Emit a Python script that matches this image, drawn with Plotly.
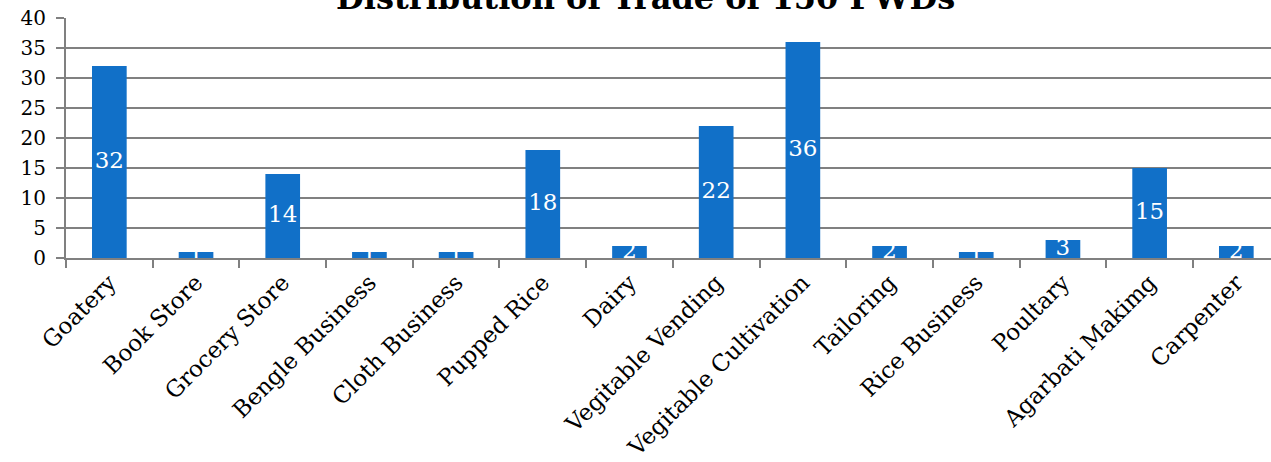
import plotly.graph_objects as go

categories = ["Goatery", "Book Store", "Grocery Store", "Bengle Business", "Cloth Business",
              "Pupped Rice", "Dairy", "Vegitable Vending", "Vegitable Cultivation", "Tailoring",
              "Rice Business", "Poultary", "Agarbati Makimg", "Carpenter"]
values = [32, 1, 14, 1, 1, 18, 2, 22, 36, 2, 1, 3, 15, 2]
title_text = "Distribution of Trade of 150 PWDs"

FONT = "DejaVu Serif"
BLUE = "#1170c8"
GRID = "#808080"

fig = go.Figure()
fig.add_trace(go.Bar(x=categories, y=values, marker=dict(color=BLUE, line=dict(width=0)),
                     showlegend=False, hoverinfo="x+y"))
fig.add_trace(go.Scatter(x=categories, y=[v / 2 for v in values], mode="text",
                         text=[str(v) for v in values],
                         textfont=dict(family=FONT, size=23, color="white"),
                         showlegend=False, hoverinfo="skip", cliponaxis=False))

fig.add_annotation(text="<b>" + title_text + "</b>", xref="paper", yref="paper",
                   x=0.481, y=1.0, yanchor="bottom", yshift=-1, showarrow=False,
                   font=dict(family=FONT, size=32, color="black"))

fig.update_layout(
    width=1271, height=462,
    margin=dict(l=66, r=0, t=18, b=204, autoexpand=False),
    plot_bgcolor="white", paper_bgcolor="white",
    bargap=0.6,
    font=dict(family=FONT, size=21, color="black"),
    xaxis=dict(range=[-0.5, 13.4], tickangle=-45, showgrid=False, automargin=False,
               showline=True, linecolor=GRID, linewidth=2,
               ticks="outside", ticklen=8, tickcolor=GRID, tickwidth=2,
               tickson="boundaries", tickfont=dict(family=FONT, size=23)),
    yaxis=dict(range=[0, 40], dtick=5, showgrid=True, gridcolor=GRID, gridwidth=2,
               showline=True, linecolor=GRID, linewidth=2, automargin=False,
               ticks="outside", ticklen=8, tickcolor=GRID, tickwidth=2,
               ticksuffix="\u2009\u200a",
               zeroline=False, tickfont=dict(family=FONT, size=20)),
)

fig.write_html("out.html", config={"displayModeBar": False},
               post_script="document.body.style.margin='0';")
